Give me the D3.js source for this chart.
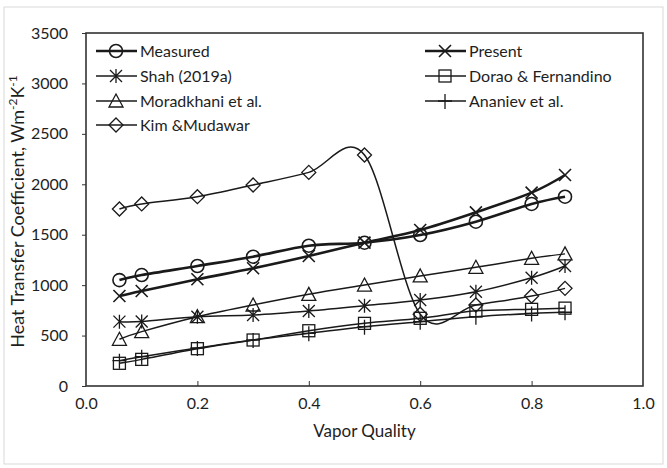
<!DOCTYPE html>
<html>
<head>
<meta charset="utf-8">
<script src="https://cdn.jsdelivr.net/npm/d3@7"></script>
<style>
  body { margin: 0; background: #fff; }
  text { font-family: Lato, "Open Sans", sans-serif; fill: #1e1e1e; }
</style>
</head>
<body>
<div id="chart"></div>
<script>
  // vapor quality values shared by every series
  var quality = [0.06, 0.1, 0.2, 0.3, 0.4, 0.5, 0.6, 0.7, 0.8, 0.86];

  var measured   = [1050, 1100, 1190, 1282, 1391, 1421, 1497, 1629, 1805, 1877];
  var present    = [892, 942, 1058, 1167, 1289, 1421, 1547, 1722, 1917, 2092];
  var shah       = [638, 640, 687, 704, 744, 796, 853, 935, 1074, 1190];
  var dorao      = [225, 264, 370, 456, 548, 621, 671, 745, 760, 772];
  var moradkhani = [463, 539, 687, 803, 909, 1001, 1091, 1177, 1266, 1310];
  var ananiev    = [251, 291, 377, 456, 522, 588, 638, 687, 720, 731];
  var kim        = [1755, 1805, 1877, 1993, 2118, 2290, 711, 803, 892, 968];

  var xTicks = [0, 0.2, 0.4, 0.6, 0.8, 1.0];
  var yTicks = [0, 500, 1000, 1500, 2000, 2500, 3000, 3500];

  var series = [
    {name: "Measured", values: measured, marker: "circle", width: 2.6, col: 0, row: 0},
    {name: "Present", values: present, marker: "x", width: 2.6, col: 1, row: 0},
    {name: "Shah (2019a)", values: shah, marker: "star", width: 1.5, col: 0, row: 1},
    {name: "Dorao & Fernandino", values: dorao, marker: "square", width: 1.5, col: 1, row: 1},
    {name: "Moradkhani et al.", values: moradkhani, marker: "triangle", width: 1.5, col: 0, row: 2},
    {name: "Ananiev et al.", values: ananiev, marker: "plus", width: 1.5, col: 1, row: 2},
    {name: "Kim &Mudawar", values: kim, marker: "diamond", width: 1.5, col: 0, row: 3}
  ];

  var W = 667, H = 468;
  // plot area edges
  var pLeft = 86, pRight = 643, pTop = 33, pBottom = 386;

  var svg = d3.select("#chart").append("svg")
    .attr("width", W).attr("height", H);

  // light outer frame
  svg.append("rect")
    .attr("x", 4).attr("y", 7).attr("width", 659).attr("height", 457)
    .attr("fill", "none").attr("stroke", "#d9d9d9").attr("stroke-width", 1);

  var x = d3.scaleLinear().domain([0, 1]).range([pLeft, pRight]);
  var y = d3.scaleLinear().domain([0, 3500]).range([pBottom, pTop]);

  // axes
  var yAxis = svg.append("g")
    .attr("transform", "translate(" + pLeft + ",0)")
    .call(d3.axisLeft(y).tickValues(yTicks).tickFormat(d3.format("d"))
      .tickSize(4).tickPadding(14));
  yAxis.select(".domain").remove();
  yAxis.selectAll("line").attr("stroke", "#333");
  yAxis.selectAll("text").style("font-size", "16px").style("fill", "#1e1e1e");

  var xAxis = svg.append("g")
    .attr("transform", "translate(0," + pBottom + ")")
    .call(d3.axisBottom(x).tickValues(xTicks).tickFormat(d3.format(".1f"))
      .tickSizeInner(-5).tickSizeOuter(0).tickPadding(12));
  xAxis.select(".domain").remove();
  xAxis.selectAll("line").attr("stroke", "#333")
    .filter(function(d) { return d === 0 || d === 1; }).remove();
  xAxis.selectAll("text").style("font-size", "16px").style("fill", "#1e1e1e");

  // plot frame
  svg.append("rect")
    .attr("x", pLeft).attr("y", pTop)
    .attr("width", pRight - pLeft).attr("height", pBottom - pTop)
    .attr("fill", "none").attr("stroke", "#333").attr("stroke-width", 1.6);

  // axis titles
  svg.append("text")
    .attr("x", x(0.5)).attr("y", 437)
    .attr("text-anchor", "middle")
    .style("font-size", "17px")
    .text("Vapor Quality");

  var yTitle = svg.append("text")
    .attr("transform", "translate(24," + ((pTop + pBottom) / 2 + 2) + ") rotate(-90)")
    .attr("text-anchor", "middle")
    .style("font-size", "18px");
  yTitle.append("tspan").text("Heat Transfer Coefficient, Wm");
  yTitle.append("tspan").attr("dy", -7).style("font-size", "12px").text("-2");
  yTitle.append("tspan").attr("dy", 7).text("K");
  yTitle.append("tspan").attr("dy", -7).style("font-size", "12px").text("-1");

  // marker drawing
  function drawMarker(g, type, sw) {
    var s;
    if (type === "circle") {
      g.append("circle").attr("r", 6.5);
    } else if (type === "x") {
      s = 6;
      g.append("path").attr("d", "M" + -s + "," + -s + "L" + s + "," + s + "M" + -s + "," + s + "L" + s + "," + -s);
    } else if (type === "star") {
      s = 6;
      g.append("path").attr("d", "M" + -s + "," + -s + "L" + s + "," + s + "M" + -s + "," + s + "L" + s + "," + -s +
        "M0," + -7 + "L0," + 7);
    } else if (type === "square") {
      g.append("rect").attr("x", -6).attr("y", -6).attr("width", 12).attr("height", 12);
    } else if (type === "triangle") {
      g.append("path").attr("d", "M0,-7L7,6L-7,6Z");
    } else if (type === "plus") {
      g.append("path").attr("d", "M-7,0L7,0M0,-7L0,8");
    } else if (type === "diamond") {
      g.append("path").attr("d", "M0,-7L7,0L0,7L-7,0Z");
    }
    g.selectAll("*").attr("fill", "none").attr("stroke", "#1a1a1a").attr("stroke-width", sw);
  }

  var line = d3.line()
    .x(function(d) { return x(d[0]); })
    .y(function(d) { return y(d[1]); })
    .curve(d3.curveCatmullRom.alpha(0));

  var plot = svg.append("g");

  series.slice().reverse().forEach(function(s) {
    var pts = quality.map(function(q, i) { return [q, s.values[i]]; });
    plot.append("path")
      .attr("d", line(pts))
      .attr("fill", "none")
      .attr("stroke", "#1a1a1a")
      .attr("stroke-width", s.width);

    var mw = s.width > 2 ? 1.6 : 1.3;
    pts.forEach(function(p) {
      var g = plot.append("g")
        .attr("transform", "translate(" + x(p[0]) + "," + y(p[1]) + ")");
      drawMarker(g, s.marker, mw);
    });
  });

  // legend
  var legCols = [96, 425];
  var legRows = [51, 76, 101, 125];
  var legend = svg.append("g");
  series.forEach(function(s) {
    var lx = legCols[s.col], ly = legRows[s.row];
    legend.append("line")
      .attr("x1", lx).attr("x2", lx + 41)
      .attr("y1", ly).attr("y2", ly)
      .attr("stroke", "#1a1a1a").attr("stroke-width", s.width);
    var g = legend.append("g").attr("transform", "translate(" + (lx + 20) + "," + ly + ")");
    drawMarker(g, s.marker, s.width > 2 ? 1.6 : 1.3);
    legend.append("text")
      .attr("x", lx + 44).attr("y", ly)
      .attr("dy", "0.35em")
      .style("font-size", "16px")
      .text(s.name);
  });
</script>
</body>
</html>
